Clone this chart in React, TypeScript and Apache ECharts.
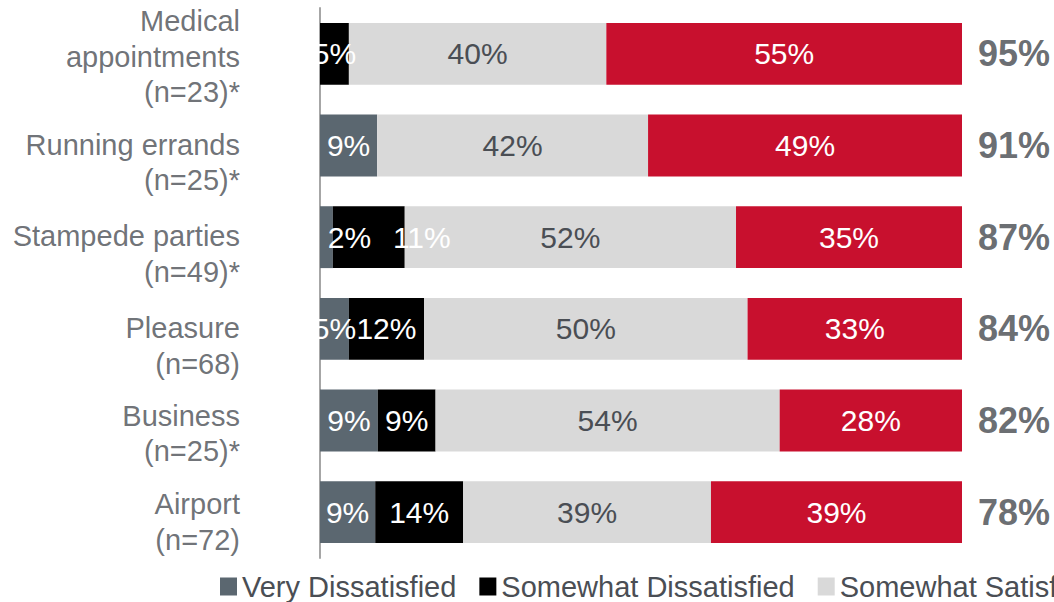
import React, { useEffect, useRef } from "react";
import * as echarts from "echarts";

const categories = [
  "Medical\nappointments\n(n=23)*",
  "Running errands\n(n=25)*",
  "Stampede parties\n(n=49)*",
  "Pleasure\n(n=68)",
  "Business\n(n=25)*",
  "Airport\n(n=72)",
];
const veryDissatisfied = [0, 8.9, 2, 4.5, 9, 8.6];
const somewhatDissatisfied = [4.5, 0, 11.2, 11.7, 9, 13.7];
const somewhatSatisfied = [40.1, 42.2, 51.6, 50.4, 53.6, 38.6];
const verySatisfied = [55.4, 48.9, 35.2, 33.4, 28.4, 39.1];
const totals = [95, 91, 87, 84, 82, 78];
const seriesNames = ["Very Dissatisfied", "Somewhat Dissatisfied", "Somewhat Satisfied", "Very Satisfied"];
const labelShiftY = [3, 17, 17, 17, 13, 10];
const vdLabelShiftX = [0, 0, 23, 0, 0, 0];
const sdLabelShiftX = [0, 0, 53, 0, 0, 0];

const FONT = "'Liberation Sans', Arial, sans-serif";
const COLORS = ["#5b6770", "#000000", "#d9d9d9", "#c8102e"];
const TEXT = "#4a4e54";
const LABEL_COLORS = ["#ffffff", "#ffffff", TEXT, "#ffffff"];

export default function App() {
  const ref = useRef<HTMLDivElement>(null);
  useEffect(() => {
    if (!ref.current) return;
    const chart = echarts.init(ref.current, undefined, { renderer: "svg" });
    const values = [veryDissatisfied, somewhatDissatisfied, somewhatSatisfied, verySatisfied];
    const shifts = [vdLabelShiftX, sdLabelShiftX, null, null];
    const barSeries = values.map((arr, si) => ({
      name: seriesNames[si],
      type: "bar",
      stack: "all",
      barCategoryGap: "32.5%",
      itemStyle: { color: COLORS[si] },
      label: {
        show: true,
        position: "inside",
        fontFamily: FONT,
        fontSize: 30,
        color: LABEL_COLORS[si],
        formatter: (p: any) => (p.value > 0 ? Math.round(p.value) + "%" : ""),
      },
      data: arr.map((v, i) => {
        const sh = shifts[si];
        if (sh && sh[i]) return { value: v, label: { offset: [sh[i], 0] } };
        return v;
      }),
    }));
    chart.setOption({
      animation: false,
      grid: { left: 320, right: 92, top: 8, bottom: 44 },
      legend: {
        data: seriesNames,
        left: 215,
        top: 567,
        width: 2000,
        itemWidth: 17,
        itemHeight: 18,
        itemGap: 23,
        icon: "rect",
        textStyle: { fontFamily: FONT, fontSize: 29, color: TEXT },
      },
      xAxis: { type: "value", min: 0, max: 100, show: false },
      yAxis: {
        type: "category",
        data: categories,
        inverse: true,
        axisLine: { show: true, lineStyle: { color: "#a6a6a6", width: 2 } },
        axisTick: { show: false },
        axisLabel: { show: false },
        splitLine: { show: false },
      },
      series: [
        ...barSeries,
        {
          type: "scatter",
          symbolSize: 0,
          clip: false,
          silent: true,
          label: {
            show: true,
            position: "left",
            distance: 80,
            fontFamily: FONT,
            fontSize: 29,
            lineHeight: 35.5,
            color: TEXT,
            align: "right",
            formatter: (p: any) => categories[p.dataIndex],
          },
          data: categories.map((_, i) => ({ value: [0, i], label: { offset: [0, labelShiftY[i]] } })),
        },
        {
          type: "scatter",
          symbolSize: 0,
          clip: false,
          silent: true,
          label: {
            show: true,
            position: "right",
            distance: 16,
            fontFamily: FONT,
            fontSize: 36,
            fontWeight: "bold",
            color: "#43474d",
            formatter: (p: any) => totals[p.dataIndex] + "%",
          },
          data: totals.map((_, i) => [100, i]),
        },
      ],
    });
    return () => chart.dispose();
  }, []);
  return (
    <div
      ref={ref}
      style={{ position: "fixed", left: 0, top: 0, width: 1054, height: 602, background: "#fff" }}
    />
  );
}
